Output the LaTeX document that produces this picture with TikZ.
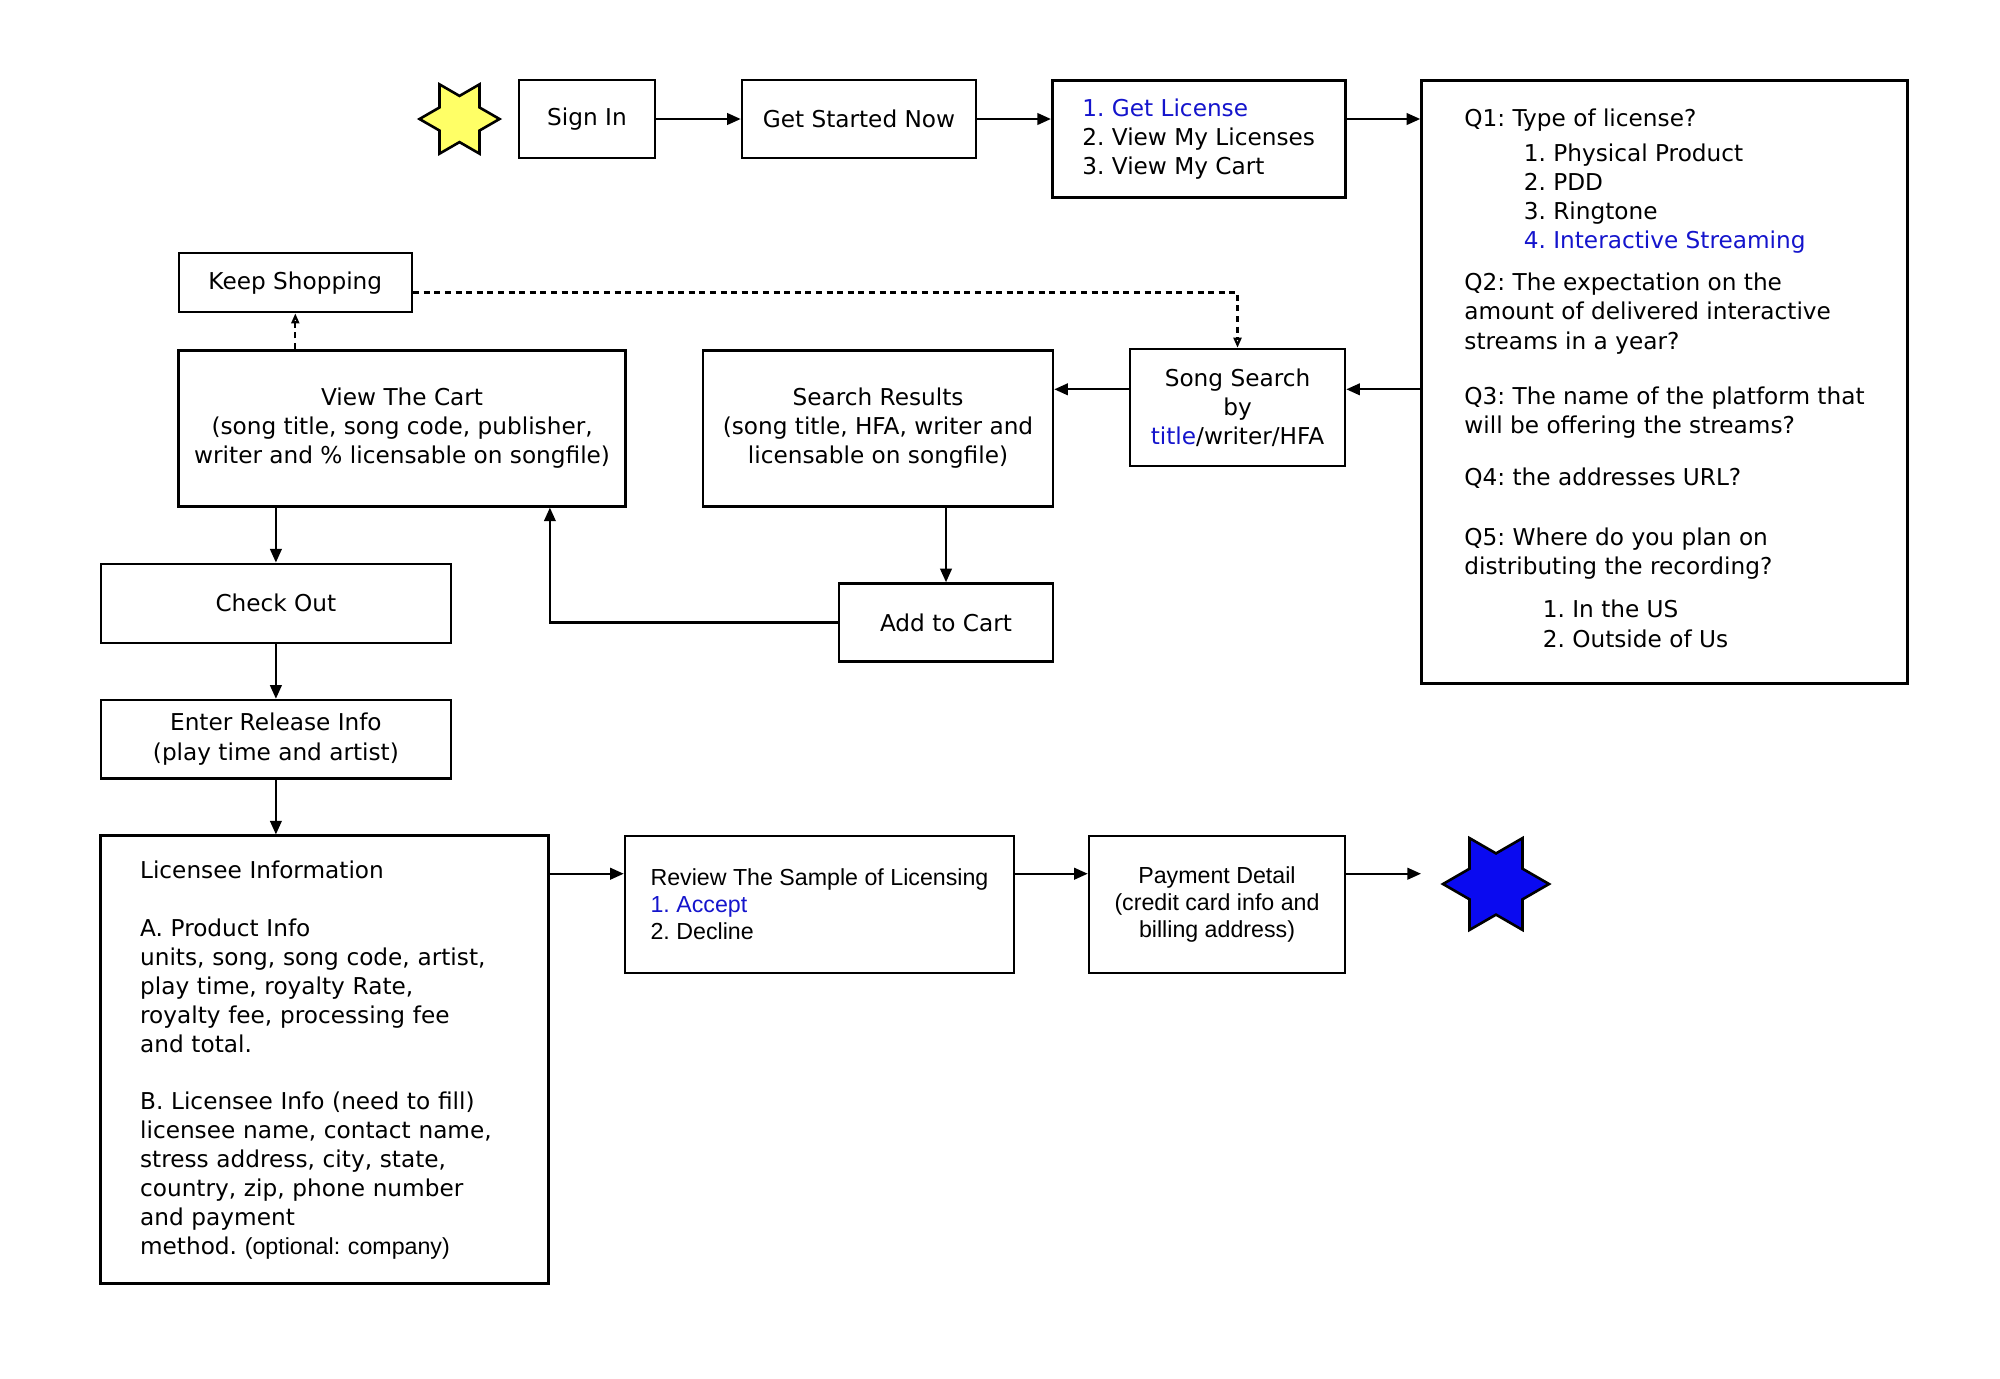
\documentclass[tikz,border=0pt]{standalone}
\usepackage{fontspec}
\usepackage{xcolor}
\usepackage{tikz}
\setmainfont{DejaVu Sans}
\newfontfamily\helv{Liberation Sans}
\frenchspacing
\definecolor{tblue}{RGB}{20,20,204}
\definecolor{ystar}{RGB}{255,255,102}
\definecolor{bstar}{RGB}{10,10,240}
\usetikzlibrary{arrows.meta}
\usetikzlibrary{shapes.geometric}
\tikzset{box/.style={draw, line width=1.3pt, inner sep=0pt, align=center,
   font=\fontsize{11.6pt}{14.6pt}\selectfont},
 hbox/.style={box, font=\helv\fontsize{11.6pt}{13.6pt}\selectfont},
 hexstar/.style={star, star points=6, star point ratio=1.732,
   shape border rotate=90, draw, line width=1.3pt, inner sep=0pt},
 arr/.style={-{Triangle[length=6.8pt,width=5.8pt]}, line width=1.1pt},
 dsh/.style={-{Triangle[open,length=5pt,width=4pt]}, line width=1.1pt,
   dash pattern=on 3pt off 2.3pt},
 }

\begin{document}
\begin{tikzpicture}[x=0.5pt, y=-0.5pt]
        \useasboundingbox (0,0) rectangle (2000,1378);
        % top row
        \node[hexstar, fill=ystar, minimum size=40pt] (start) at (459.5,119) {};
        \node[box, minimum width=68pt, minimum height=39pt] (signin) at (587,119) {Sign In};
        \node[box, minimum width=117pt, minimum height=39pt] (gsn) at (859,119) {Get Started Now};
        \node[box, minimum width=146.5pt, minimum height=58.5pt, align=left] (lic) at (1198.7,138.9)
            {\textcolor{tblue}{1. Get License}\\2. View My Licenses\\3. View My Cart};
        \node[box, minimum width=243pt, minimum height=301.5pt, align=left, text depth=3.8pt] (qbox) at (1664.5,381.7)
            {Q1: Type of license?\\[2.9pt]
            \hspace*{29.7pt}1. Physical Product\\
            \hspace*{29.7pt}2. PDD\\
            \hspace*{29.7pt}3. Ringtone\\
            \hspace*{29.7pt}\textcolor{tblue}{4. Interactive Streaming}\\[6.3pt]
            Q2: The expectation on the\\
            amount of delivered interactive\\
            streams in a year?\\[13.2pt]
            Q3: The name of the platform that\\
            will be offering the streams?\\[11.2pt]
            Q4: the addresses URL?\\[15.4pt]
            Q5: Where do you plan on\\
            distributing the recording?\\[7pt]
            \hspace*{39.2pt}1. In the US\\
            \hspace*{39.2pt}2. Outside of Us};
        % middle
        \node[box, minimum width=116.5pt, minimum height=29.5pt] (keep) at (295.3,282.6) {Keep Shopping};
        \node[box, minimum width=223.5pt, minimum height=78pt] (view) at (402.1,428.3)
            {View The Cart\\(song title, song code, publisher,\\writer and \% licensable on songfile)};
        \node[box, minimum width=175pt, minimum height=78pt] (sres) at (878,428.3)
            {Search Results\\(song title, HFA, writer and\\licensable on songfile)};
        \node[box, minimum width=107.5pt, minimum height=58.5pt] (song) at (1237.5,407.5)
            {Song Search\\by\\\textcolor{tblue}{title}/writer/HFA};
        \node[box, minimum width=175pt, minimum height=39.5pt] (chk) at (275.9,603.3) {Check Out};
        \node[box, minimum width=107pt, minimum height=39pt] (cart) at (946,622.5) {Add to Cart};
        \node[box, minimum width=175pt, minimum height=39.1pt] (rel) at (275.9,739.1)
            {Enter Release Info\\(play time and artist)};
        % bottom row
        \node[box, minimum width=224pt, minimum height=223.9pt, text width=184.5pt, align=left,
            font=\fontsize{11.6pt}{14.5pt}\selectfont] (licinfo) at (324.6,1059.6)
            {Licensee Information\\[14.9pt]
            A. Product Info\\
            units, song, song code, artist,\\
            play time, royalty Rate,\\
            royalty fee, processing fee\\
            and total.\\[13.6pt]
            B. Licensee Info (need to fill)\\
            licensee name, contact name,\\
            stress address, city, state,\\
            country, zip, phone number\\
            and payment\\
            method. {\helv (optional: company)}};
        \node[hbox, minimum width=194.5pt, minimum height=68.5pt, align=left] (review) at (819.5,904.3)
            {Review The Sample of Licensing\\\textcolor{tblue}{1. Accept}\\2. Decline};
        \node[hbox, minimum width=128pt, minimum height=68.5pt] (pay) at (1217,904.3)
            {Payment Detail\\(credit card info and\\billing address)};
        \node[hexstar, fill=bstar, minimum size=53pt] (finish) at (1496,884) {};
        \coordinate (payend) at (1421,875);
        % connectors
        \draw[arr] (signin) -- (gsn);
        \draw[arr] (gsn.east) -- (gsn.east -| lic.west);
        \draw[arr] (lic.east |- gsn.east) -- (gsn.east -| qbox.west);
        \draw[arr] ([yshift=9.1pt]song.east -| qbox.west) -- ([yshift=9.1pt]song.east);
        \draw[arr] ([yshift=9.1pt]song.west) -- ([yshift=9.1pt]song.west -| sres.east);
        \draw[arr] (cart.north |- sres.south) -- (cart.north);
        \draw[arr] (cart.west) -| ([xshift=-38.5pt]view.south east);
        \draw[arr] (chk.north |- view.south) -- (chk.north);
        \draw[arr] (chk) -- (rel);
        \draw[arr] (rel.south) -- (rel.south |- licinfo.north);
        \draw[arr] ([yshift=-19.6pt]review.north west -| licinfo.east) -- ([yshift=-19.6pt]review.north west);
        \draw[arr] ([yshift=-19.6pt]review.north east) -- ([yshift=-19.6pt]review.north east -| pay.west);
        \draw[arr] ([yshift=-19.6pt]review.north east -| pay.east) -- ([yshift=-19.6pt]review.north east -| payend);
        \draw[dsh] (keep.south |- view.north) -- (keep.south);
        \draw[dsh] ([yshift=-4.9pt]keep.east) -| (song.north);
    \end{tikzpicture}
\end{document}
